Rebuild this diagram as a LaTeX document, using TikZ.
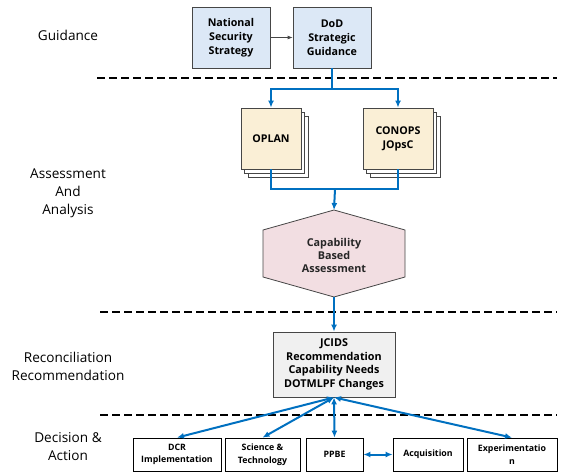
\documentclass[tikz,border=0pt]{standalone}
\usepackage{fontspec}
\setmainfont{Open Sans}
\usetikzlibrary{arrows.meta}
\definecolor{conn}{RGB}{0,112,192}
\definecolor{guidefill}{RGB}{220,232,246}
\definecolor{planfill}{RGB}{250,239,214}
\definecolor{hexfill}{RGB}{242,222,226}
\definecolor{jcfill}{RGB}{240,240,240}
\definecolor{edge}{RGB}{70,70,70}
\tikzset{
  x=1pt, y=-1pt,
  lbl/.style={align=center, font=\fontsize{13.6}{18}\selectfont},
  box/.style={draw=edge, line width=0.8pt, align=center, inner sep=1pt},
  guide/.style={box, fill=guidefill, minimum width=78pt, minimum height=61pt, font=\bfseries\fontsize{10.7}{14}\selectfont},
  plan/.style={box, fill=planfill, minimum height=61pt, font=\bfseries\fontsize{10.7}{14}\selectfont},
  layer/.style={draw=edge, line width=0.7pt, fill=white},
  act/.style={draw=black, line width=0.8pt, fill=white, align=center, minimum height=33pt, inner sep=1pt, font=\bfseries\fontsize{8.8}{12.5}\selectfont},
  sep/.style={line width=2.6pt, dash pattern=on 8pt off 4pt},
  link/.style={draw=conn, line width=2pt},
  tip/.style={-{Latex[length=7pt,width=6pt]}},
  tips/.style={{Latex[length=7pt,width=6pt]}-{Latex[length=7pt,width=6pt]}}
}
\begin{document}
\begin{tikzpicture}
\useasboundingbox (0,0) rectangle (581,473);
% left labels
\node[lbl] (lg) at (68,35) {Guidance};
\node[lbl] (la) at (68,193) {Assessment\\And\\Analysis};
\node[lbl] (lr) at (68,366) {Reconciliation\\Recommendation};
\node[lbl] (ld) at (68,446.5) {Decision \&\\Action};
% separators
\draw[sep] (97,78) -- (557,78);
\draw[sep] (100,312) -- (557,312);
\draw[sep] (100,415) -- (557,415);
% guidance
\node[guide] (nss) at (231,37.5) {National\\Security\\Strategy};
\node[guide] (dod) at (332,37.5) {DoD\\Strategic\\Guidance};
\draw[draw=edge, line width=0.8pt, -{Latex[length=5pt,width=4pt]}] (nss) -- (dod);
% plans with stacked layers
\draw[layer] (248,116) rectangle (308,177);
\draw[layer] (244.5,112) rectangle (304.5,173);
\node[plan, minimum width=60pt] (oplan) at (271,138.5) {OPLAN};
\draw[layer] (370,116) rectangle (440,177);
\draw[layer] (366.5,112) rectangle (436.5,173);
\node[plan, minimum width=70pt] (conops) at (398,138.5) {CONOPS\\JOpsC};
\coordinate (split) at (332,89);
\draw[link] (dod.south) -- (split);
\draw[link, tip] (split) -| (oplan.north);
\draw[link, tip] (split) -| (conops.north);
% hexagon
\coordinate (hT) at (334,210);
\coordinate (hB) at (334,297);
\draw[draw=edge, line width=0.8pt, fill=hexfill] (hT) -- (405,230) -- (405,277) -- (hB) -- (263,277) -- (263,230) -- cycle;
\node[align=center, font=\bfseries\fontsize{10.8}{13}\selectfont, text=black!85] (cba) at (334,255) {Capability\\Based\\Assessment};
\coordinate (join) at (335,189);
\draw[link] (oplan.south) |- (join);
\draw[link] (conops.south) |- (join);
\draw[link, tip] (join) -- (hT);
% JCIDS
\node[box, fill=jcfill, minimum width=122pt, minimum height=65pt, font=\bfseries\fontsize{10.8}{13.7}\selectfont] (jc) at (334,364.5) {JCIDS\\Recommendation\\Capability Needs\\DOTMLPF Changes};
\draw[link, tip] (hB) -- (jc.north);
% actions
\node[act, minimum width=88pt] (dcr) at (177,454.5) {DCR\\Implementation};
\node[act, minimum width=75pt] (st) at (262.5,454.5) {Science \&\\Technology};
\node[act, minimum width=57pt] (ppbe) at (334.5,454.5) {PPBE};
\node[act, minimum width=70pt] (acq) at (428,454.5) {Acquisition};
\node[act, minimum width=90pt] (exp) at (512,454.5) {Experimentatio\\n};
\draw[link, tips] (jc.south) -- (dcr.north);
\draw[link, tips] (jc.south) -- (st.north);
\draw[link, tips] (jc.south) -- (ppbe.north);
\draw[link, tips] (jc.south) -- (exp.north);
\draw[link, tips] (ppbe) -- (acq);
\end{tikzpicture}
\end{document}
